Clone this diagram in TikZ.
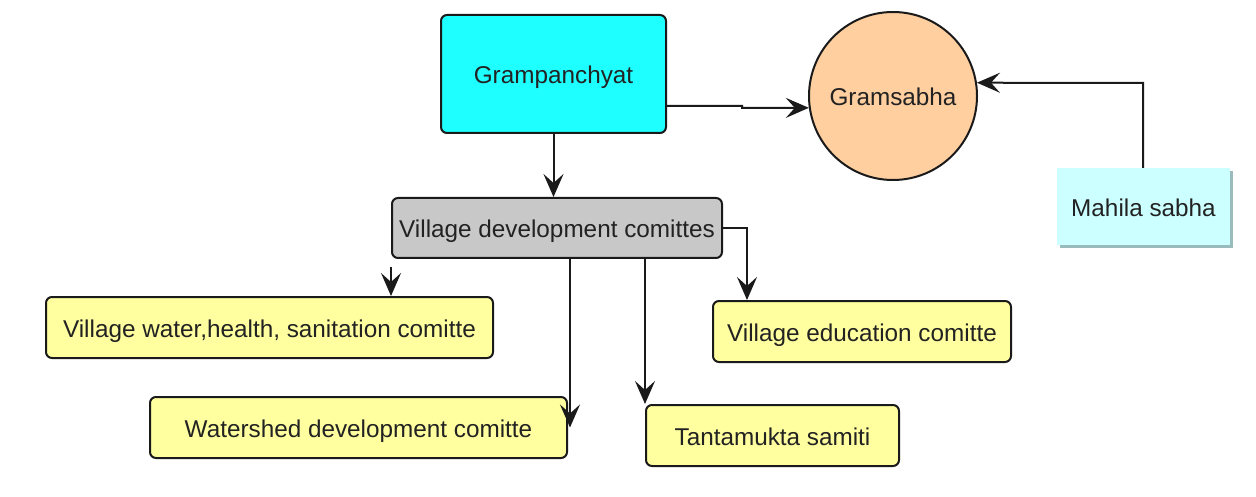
\documentclass[tikz,border=0pt]{standalone}
\usepackage{fontspec}
\setmainfont{Liberation Sans}
\usetikzlibrary{arrows.meta,shapes.geometric}
\definecolor{gpcyan}{HTML}{1EFFFF}
\definecolor{gspeach}{HTML}{FFCFA0}
\definecolor{mslight}{HTML}{CCFFFF}
\definecolor{msshadow}{HTML}{99BBBB}
\definecolor{vdcgray}{HTML}{C8C8C8}
\definecolor{boxyellow}{HTML}{FFFFA0}
\definecolor{linecol}{HTML}{1A1A1A}
\definecolor{txtcol}{HTML}{222222}
\tikzset{bigtip/.tip={Stealth[length=23pt,width=20pt,inset=9pt]}}
\begin{document}
\begin{tikzpicture}[x=1pt,y=-1pt,
  every node/.style={text=txtcol,font=\fontsize{24.3}{28}\selectfont,inner sep=0pt,text height=20pt,text depth=0pt},
  rbox/.style={draw=linecol,line width=2pt,rounded corners=6pt,minimum width=#1,minimum height=61},
  conn/.style={draw=linecol,line width=2pt,arrows={-bigtip}}]
\useasboundingbox (0,0) rectangle (1256,497);
% nodes
\node[rbox=225,minimum height=118,fill=gpcyan] (gp) at (553.5,74) {Grampanchyat};
\node[circle,draw=linecol,line width=2pt,fill=gspeach,minimum size=168] (gs) at (893,96) {Gramsabha};
\fill[msshadow] (1060,171) rectangle (1233,248);
\node[fill=mslight,minimum width=173,minimum height=77] (ms) at (1143.5,206.5) {Mahila sabha};
\node[rbox=330,minimum height=60,fill=vdcgray] (vdc) at (557,228) {Village development comittes};
\node[rbox=447,fill=boxyellow] (b1) at (269.5,327.5) {Village water,health, sanitation comitte};
\node[rbox=298,fill=boxyellow] (edu) at (862,331.5) {Village education comitte};
\node[rbox=417,fill=boxyellow] (ws) at (358.5,427.5) {Watershed development comitte};
\node[rbox=253,fill=boxyellow] (tm) at (772.5,435.5) {Tantamukta samiti};
% coordinates
\coordinate (j1) at (742,106);
\coordinate (j2) at (742,108);
\coordinate (j3) at (1143,83);
\coordinate (j4) at (747,228);
% connectors
\draw[conn] (gp.south) -- (gp.south |- vdc.north);
\draw[conn] (gp.east |- j1) -- (j1) -- (j2) -- (gs.188);
\draw[conn] (ms.north -| j3) -- (j3) -- (gs.9);
\draw[conn] ([yshift=-8]vdc.south west) -- (vdc.south west |- b1.north);
\draw[conn] (vdc.east) -- (j4) -- (j4 |- edu.north);
\draw[conn] ([xshift=2]ws.east |- vdc.south) -- ([xshift=2]ws.east);
\draw[conn] (tm.north west |- vdc.south) -- (tm.north west);
\end{tikzpicture}
\end{document}
